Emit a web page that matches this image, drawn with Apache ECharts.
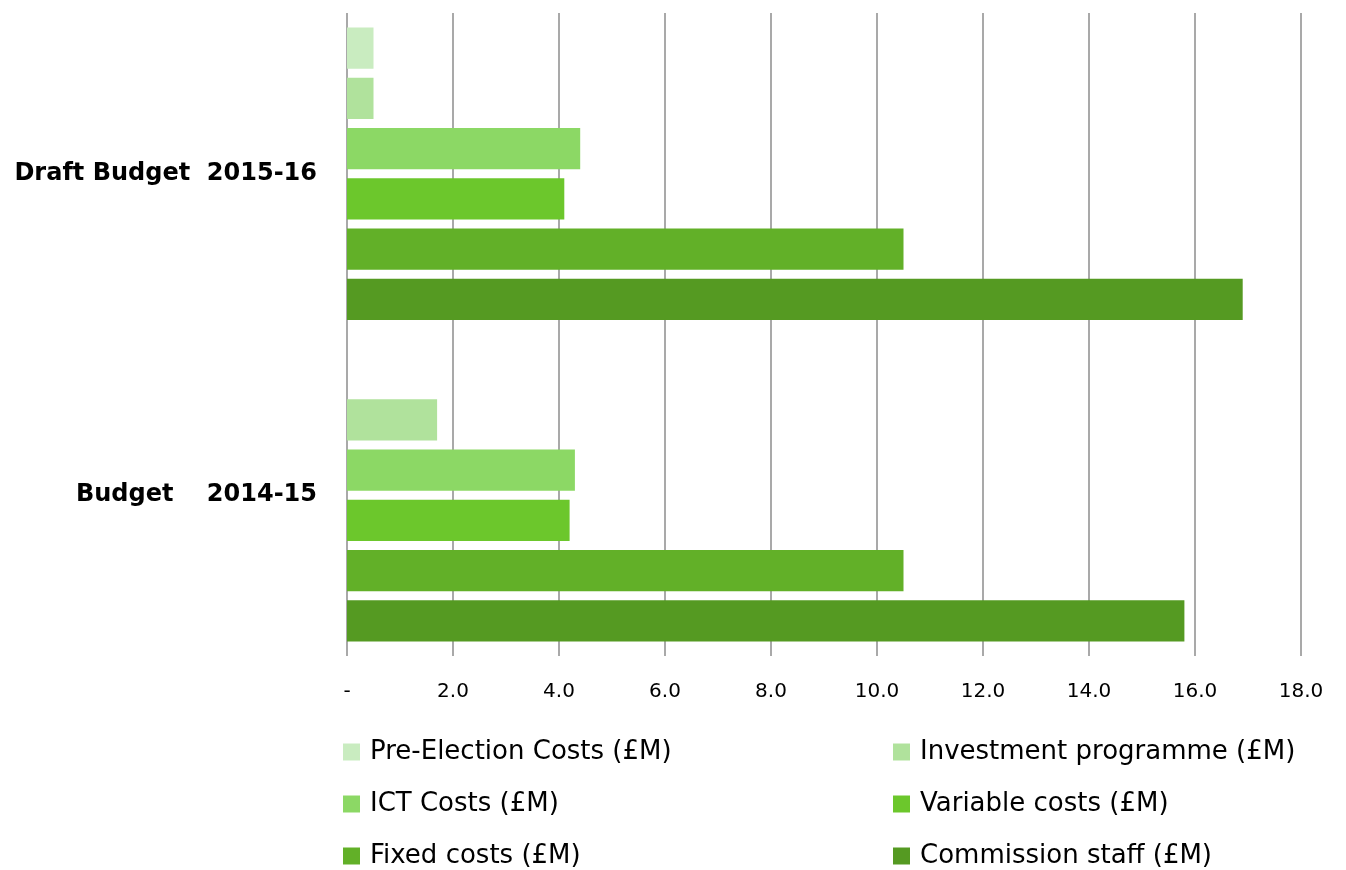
<!DOCTYPE html>
<html>
<head>
<meta charset="utf-8">
<script src="https://cdn.jsdelivr.net/npm/echarts@6/dist/echarts.min.js"></script>
<style>
html,body{margin:0;padding:0;background:#fff;}
#main{width:1346px;height:870px;}
</style>
</head>
<body>
<div id="main"></div>
<script>
const categories = ['Budget    2014-15', 'Draft Budget  2015-16'];
const seriesNames = ['Pre-Election Costs (£M)', 'Investment programme (£M)', 'ICT Costs (£M)', 'Variable costs (£M)', 'Fixed costs (£M)', 'Commission staff (£M)'];
const preElection = [null, 0.5];
const investment = [1.7, 0.5];
const ict = [4.3, 4.4];
const variable = [4.2, 4.1];
const fixed = [10.5, 10.5];
const commission = [15.8, 16.9];
const xTickLabels = ['-', '2.0', '4.0', '6.0', '8.0', '10.0', '12.0', '14.0', '16.0', '18.0'];
const colors = ['#c9ecc0', '#b0e29c', '#8cd865', '#6cc72c', '#62b028', '#559a22'];
const values = [preElection, investment, ict, variable, fixed, commission];

const chart = echarts.init(document.getElementById('main'), null, {renderer: 'canvas'});
const font = "'DejaVu Sans', sans-serif";
const series = seriesNames.map((name, i) => ({
  name: name,
  type: 'bar',
  data: values[i],
  itemStyle: {color: colors[i]},
  barGap: '22%',
  barCategoryGap: '9%'
}));
const legendBase = {
  orient: 'vertical', top: 734, height: 140, itemWidth: 17, itemHeight: 17, itemGap: 26,
  icon: 'rect',
  textStyle: {fontSize: 26, lineHeight: 26, color: '#000', fontFamily: font, padding: [0, 0, 0, 5]}
};
chart.setOption({
  animation: false,
  grid: {left: 347, right: 45, top: 13, bottom: 214, containLabel: false},
  xAxis: {
    type: 'value', min: 0, max: 18, interval: 2,
    axisLine: {show: false}, axisTick: {show: false},
    splitLine: {show: true, lineStyle: {color: '#8c8c8c', width: 1.5}},
    axisLabel: {
      margin: 26, color: '#000', fontSize: 20, fontFamily: font,
      formatter: v => xTickLabels[Math.round(v / 2)]
    }
  },
  yAxis: {
    type: 'category', data: categories,
    axisLine: {show: false}, axisTick: {show: false},
    axisLabel: {margin: 30, color: '#000', fontSize: 24, fontWeight: 'bold', fontFamily: font}
  },
  legend: [
    Object.assign({}, legendBase, {left: 338, data: [seriesNames[0], seriesNames[2], seriesNames[4]]}),
    Object.assign({}, legendBase, {left: 888, data: [seriesNames[1], seriesNames[3], seriesNames[5]]})
  ],
  series: series
});
</script>
</body>
</html>
